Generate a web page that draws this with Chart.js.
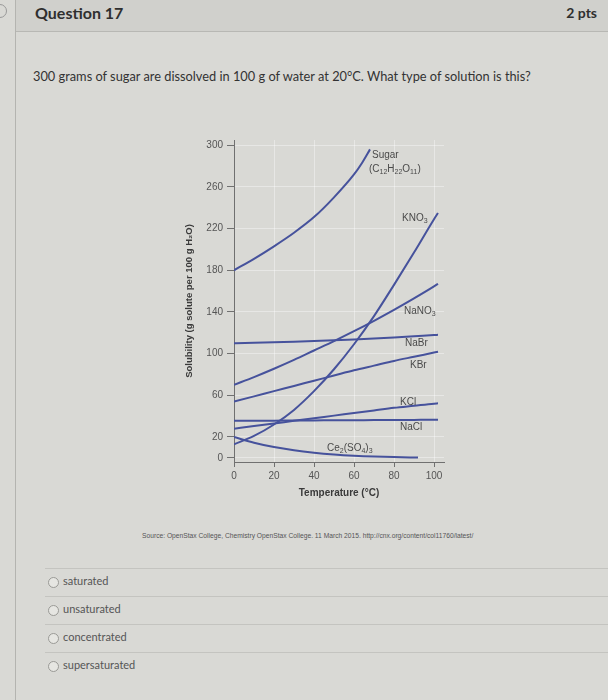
<!DOCTYPE html>
<html>
<head>
    <title>Question 17</title>
    <script src="https://cdn.jsdelivr.net/npm/chart.js"></script>
    <style>
        body {
            margin: 0;
            width: 608px;
            height: 700px;
            overflow: hidden;
            background: #d9d9d5;
            font-family: 'Lato', sans-serif;
            color: #333;
            position: relative;
        }
        #leftRule {
            position: absolute; left: 15px; top: 0; width: 1px; height: 700px;
            background: #b4b4b0;
        }
        #ring {
            position: absolute; left: -7px; top: 4px; width: 12px; height: 12px;
            border: 1px solid #999; border-radius: 50%;
        }
        #header {
            position: absolute; left: 16px; top: 0; right: 0; height: 31px;
            background: #d0d0cc;
            border-bottom: 1px solid #b8b8b4;
        }
        #qtitle { position: absolute; left: 19px; top: 3px; font-size: 16px; font-weight: 700; color: #2f2f2f; }
        #pts { position: absolute; right: 11px; top: 4px; font-size: 14px; font-weight: 700; color: #2f2f2f; }
        #question { position: absolute; left: 33px; top: 68px; font-size: 12.8px; color: #333; }
        #chartBox { position: absolute; left: 180px; top: 130px; width: 280px; height: 372px; }
        #source {
            position: absolute; left: 142px; top: 532px; width: 340px;
            font-family: 'Liberation Sans', Arial, sans-serif; font-size: 6.7px; color: #555;
            white-space: nowrap;
        }
        .opt { position: absolute; left: 45px; right: 0; height: 27px; border-top: 1px solid #c4c4c0; }
        .opt span.dot {
            position: absolute; left: 3px; top: 8px; width: 9px; height: 9px;
            border: 1px solid #9a9a96; border-radius: 50%; background: #e6e6e2;
        }
        .opt span.txt { position: absolute; left: 18px; top: 5px; font-size: 11px; color: #555; }
    </style>
</head>
<body>
<div id="leftRule"></div>
<div id="ring"></div>
<div id="header">
    <div id="qtitle">Question 17</div>
    <div id="pts">2 pts</div>
</div>
<div id="question">300 grams of sugar are dissolved in 100 g of water at 20°C. What type of solution is this?</div>

<div id="chartBox"><canvas id="solChart" width="280" height="372"></canvas></div>

<div id="source">Source: OpenStax College, Chemistry OpenStax College. 11 March 2015. http://cnx.org/content/col11760/latest/</div>

<div class="opt" style="top:568px"><span class="dot"></span><span class="txt">saturated</span></div>
<div class="opt" style="top:596px"><span class="dot"></span><span class="txt">unsaturated</span></div>
<div class="opt" style="top:624px"><span class="dot"></span><span class="txt">concentrated</span></div>
<div class="opt" style="top:652px"><span class="dot"></span><span class="txt">supersaturated</span></div>

<script>
    // temperatures (°C) and solubility (g solute per 100 g H2O)
    const temps = [0, 10, 20, 30, 40, 50, 60, 70, 80, 90, 100, 102];
    const sugarTemps = [0, 10, 20, 30, 40, 50, 60, 64, 68];
    const ceTemps = [0, 10, 20, 30, 40, 50, 60, 70, 80, 92];

    const sugar = [180, 191, 203, 216, 231, 250, 272, 283, 296];
    const kno3 = [13, 21, 32, 46, 64, 85, 109, 136, 166, 197, 229, 235];
    const nano3 = [70, 77.5, 85.5, 94, 103, 112, 121.5, 131.5, 142, 153, 164.5, 167];
    const nabr = [110, 110.5, 111, 111.5, 112, 112.8, 113.6, 114.5, 115.5, 116.6, 117.8, 118];
    const kbr = [54, 59, 64, 69, 74, 79, 84, 88.5, 93, 97, 101, 101.8];
    const kcl = [28, 30.5, 33, 35.5, 38, 40.5, 43, 45.5, 48, 50, 52, 52.3];
    const nacl = [35.5, 35.6, 35.7, 35.8, 35.9, 36, 36.1, 36.2, 36.3, 36.4, 36.5, 36.5];
    const ce2so43 = [20, 14.5, 10.3, 7.2, 4.9, 3.2, 2, 1.2, 0.7, 0.3];

    const xTicks = [0, 20, 40, 60, 80, 100];
    const yTicks = [0, 20, 60, 100, 140, 180, 220, 260, 300];

    const lineColor = '#46529c';
    const textColor = '#4a4a4a';

    function toPoints(xs, ys) {
        return ys.map((y, i) => ({ x: xs[i], y: y }));
    }

    function series(name, xs, ys) {
        return {
            label: name,
            data: toPoints(xs, ys),
            borderColor: lineColor,
            borderWidth: 2,
            pointRadius: 0,
            showLine: true,
            fill: false,
            cubicInterpolationMode: 'monotone'
        };
    }

    // curve labels, placed in data units; "_n" = subscript
    const curveLabels = [
        { text: 'Sugar', t: 69, v: 290 },
        { text: '(C_12H_22O_11)', t: 67.5, v: 277 },
        { text: 'KNO_3', t: 84, v: 230 },
        { text: 'NaNO_3', t: 85, v: 141 },
        { text: 'NaBr', t: 85.5, v: 110 },
        { text: 'KBr', t: 88, v: 89 },
        { text: 'KCl', t: 83, v: 53 },
        { text: 'NaCl', t: 83, v: 29 },
        { text: 'Ce_2(SO_4)_3', t: 46.5, v: 9 }
    ];

    const labelPlugin = {
        id: 'curveLabels',
        afterDatasetsDraw(chart) {
            const ctx = chart.ctx;
            const xs = chart.scales.x, ys = chart.scales.y;
            ctx.save();
            ctx.fillStyle = textColor;
            ctx.textBaseline = 'middle';
            curveLabels.forEach(lb => {
                let px = xs.getPixelForValue(lb.t);
                const py = ys.getPixelForValue(lb.v);
                const parts = lb.text.split(/(_\d+)/).filter(p => p !== '');
                parts.forEach(p => {
                    if (p[0] === '_') {
                        ctx.font = '7px "Liberation Sans", Arial, sans-serif';
                        ctx.fillText(p.slice(1), px, py + 3);
                        px += ctx.measureText(p.slice(1)).width;
                    } else {
                        ctx.font = '10px "Liberation Sans", Arial, sans-serif';
                        ctx.fillText(p, px, py);
                        px += ctx.measureText(p).width;
                    }
                });
            });
            ctx.restore();
        }
    };

    const tickFont = { family: '"Liberation Sans", Arial, sans-serif', size: 10 };
    const titleFont = { family: '"Liberation Sans", Arial, sans-serif', size: 10, weight: 'bold' };

    new Chart(document.getElementById('solChart'), {
        type: 'scatter',
        data: {
            datasets: [
                series('Sugar', sugarTemps, sugar),
                series('KNO3', temps, kno3),
                series('NaNO3', temps, nano3),
                series('NaBr', temps, nabr),
                series('KBr', temps, kbr),
                series('KCl', temps, kcl),
                series('NaCl', temps, nacl),
                series('Ce2(SO4)3', ceTemps, ce2so43)
            ]
        },
        options: {
            responsive: false,
            animation: false,
            layout: { padding: { top: 10, right: 16, left: 0, bottom: 0 } },
            plugins: {
                legend: { display: false },
                tooltip: { enabled: false }
            },
            scales: {
                x: {
                    type: 'linear',
                    min: 0,
                    max: 105,
                    afterBuildTicks: s => { s.ticks = xTicks.map(v => ({ value: v })); },
                    afterFit: s => { s.height = 40; },
                    border: { color: '#707070', width: 1 },
                    grid: { color: 'rgba(255,255,255,0.38)', tickColor: '#707070', tickLength: 5 },
                    ticks: { color: '#555', font: tickFont, padding: 3, maxRotation: 0 },
                    title: {
                        display: true,
                        text: 'Temperature (°C)',
                        color: '#3a3a3a',
                        font: titleFont,
                        padding: { top: 0, bottom: 3 }
                    }
                },
                y: {
                    min: -4,
                    max: 305,
                    afterBuildTicks: s => { s.ticks = yTicks.map(v => ({ value: v })); },
                    afterFit: s => { s.width = 54; },
                    border: { color: '#707070', width: 1 },
                    grid: { color: 'rgba(255,255,255,0.38)', tickColor: '#707070', tickLength: 7 },
                    ticks: { color: '#555', font: tickFont, padding: 4 },
                    title: {
                        display: true,
                        text: 'Solubility (g solute per 100 g H₂O)',
                        color: '#3a3a3a',
                        font: { family: '"Liberation Sans", Arial, sans-serif', size: 9.5, weight: 'bold' },
                        padding: { top: 4, bottom: 0 }
                    }
                }
            }
        },
        plugins: [labelPlugin]
    });
</script>
</body>
</html>
